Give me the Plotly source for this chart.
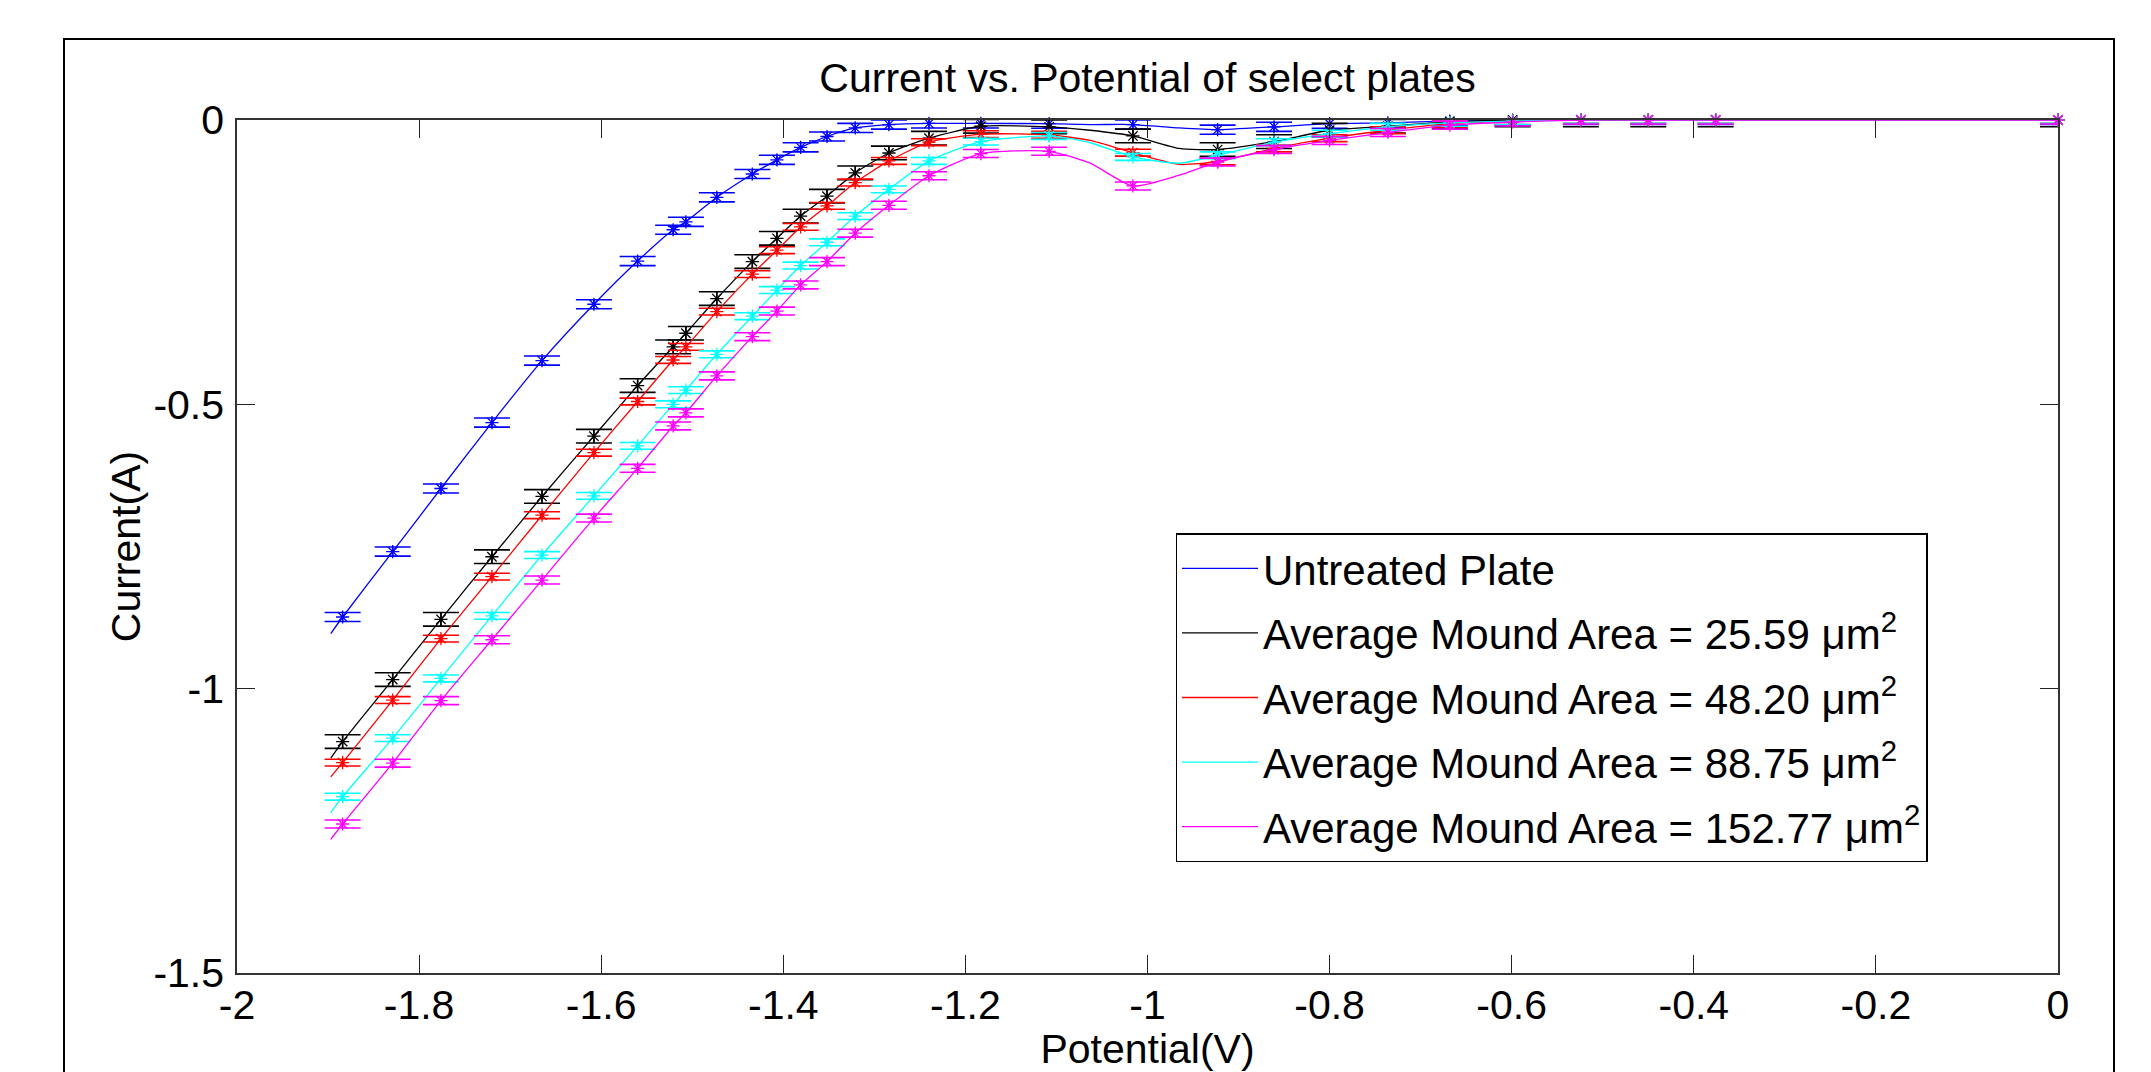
import plotly.graph_objects as go

# ---------------- data ----------------
MARKER_X = [-1.884, -1.829, -1.776, -1.720, -1.665, -1.608, -1.560, -1.521, -1.507, -1.473,
            -1.434, -1.407, -1.381, -1.352, -1.321, -1.284, -1.240, -1.183, -1.108, -1.016,
            -0.923, -0.861, -0.800, -0.736, -0.668, -0.599, -0.524, -0.450, -0.376, 0.0]

untreated = [-0.874, -0.759, -0.648, -0.532, -0.423, -0.324, -0.248, -0.193, -0.179, -0.136,
             -0.095, -0.070, -0.048, -0.029, -0.014, -0.008, -0.006, -0.006, -0.0065, -0.008,
             -0.017, -0.012, -0.0065, -0.005, -0.002, -0.001, 0.0, 0.0, 0.0, 0.0]
area_25 = [-1.093, -0.984, -0.878, -0.768, -0.662, -0.556, -0.467, -0.399, -0.375, -0.314,
           -0.249, -0.208, -0.169, -0.134, -0.093, -0.058, -0.032, -0.011, -0.012, -0.028,
           -0.052, -0.038, -0.018, -0.011, -0.0035, 0.0, 0.0, 0.0, 0.0, 0.0]
area_48 = [-1.130, -1.020, -0.912, -0.803, -0.695, -0.585, -0.495, -0.422, -0.399, -0.337,
           -0.271, -0.229, -0.188, -0.151, -0.110, -0.072, -0.039, -0.025, -0.026, -0.0575,
           -0.073, -0.050, -0.032, -0.018, -0.0065, -0.002, 0.0, 0.0, 0.0, 0.0]
area_88 = [-1.190, -1.087, -0.982, -0.872, -0.765, -0.661, -0.573, -0.500, -0.475, -0.412,
           -0.345, -0.299, -0.256, -0.215, -0.169, -0.122, -0.072, -0.038, -0.028, -0.065,
           -0.062, -0.039, -0.024, -0.012, -0.005, -0.002, 0.0, 0.0, 0.0, 0.0]
area_152 = [-1.238, -1.131, -1.021, -0.914, -0.809, -0.700, -0.6125, -0.538, -0.515, -0.450,
            -0.381, -0.336, -0.290, -0.249, -0.199, -0.150, -0.098, -0.059, -0.055, -0.116,
            -0.074, -0.052, -0.036, -0.022, -0.009, -0.0035, 0.0, 0.0, 0.0, 0.0]

# error bar half-heights per series
err_untreated = [0.008] * 30
err_25 = [0.012] * 30
err_48 = [0.006] * 30
err_88 = [0.006] * 30
err_152 = [0.007] * 30

# continuous curves (start point, marker points and a few extra points in the dip)
LINE_X = [-1.897] + MARKER_X[:19] + [-1.063] + [MARKER_X[19]] + [-0.965] + MARKER_X[20:]
line_untreated = [-0.903] + untreated[:19] + [-0.008] + [untreated[19]] + [-0.014] + untreated[20:]
line_25 = [-1.122] + area_25[:19] + [-0.018] + [area_25[19]] + [-0.050] + area_25[20:]
line_48 = [-1.155] + area_48[:19] + [-0.036] + [area_48[19]] + [-0.078] + area_48[20:]
line_88 = [-1.218] + area_88[:19] + [-0.040] + [area_88[19]] + [-0.076] + area_88[20:]
line_152 = [-1.265] + area_152[:19] + [-0.076] + [area_152[19]] + [-0.097] + area_152[20:]

NAMES = ["Untreated Plate",
         "Average Mound Area = 25.59 μm<sup>2</sup>",
         "Average Mound Area = 48.20 μm<sup>2</sup>",
         "Average Mound Area = 88.75 μm<sup>2</sup>",
         "Average Mound Area = 152.77 μm<sup>2</sup>"]
COLORS = ["#0000ff", "#000000", "#ff0000", "#00ffff", "#ff00ff"]

X_TICKS = [-2, -1.8, -1.6, -1.4, -1.2, -1, -0.8, -0.6, -0.4, -0.2, 0]
X_TICKTEXT = ["-2", "-1.8", "-1.6", "-1.4", "-1.2", "-1", "-0.8", "-0.6", "-0.4", "-0.2", "0"]
Y_TICKS = [-1.5, -1, -0.5, 0]
Y_TICKTEXT = ["-1.5", "-1", "-0.5", "0"]

series = [
    (line_untreated, untreated, err_untreated),
    (line_25, area_25, err_25),
    (line_48, area_48, err_48),
    (line_88, area_88, err_88),
    (line_152, area_152, err_152),
]

FONT = "Liberation Sans, Arial, sans-serif"
FS = 41

fig = go.Figure()
for i, (ly, my, me) in enumerate(series):
    c = COLORS[i]
    fig.add_trace(go.Scatter(
        x=LINE_X, y=ly, mode="lines", name=NAMES[i],
        line=dict(color=c, width=1.3, shape="spline", smoothing=0.6),
        legendgroup=f"g{i}", showlegend=True))
    fig.add_trace(go.Scatter(
        x=MARKER_X, y=my, mode="markers", name=NAMES[i],
        marker=dict(symbol="asterisk-open", size=11, color=c, line=dict(color=c, width=1.3)),
        error_y=dict(type="data", array=me, visible=True, color=c, thickness=1.6, width=18),
        legendgroup=f"g{i}", showlegend=False, cliponaxis=False))

axis_common = dict(
    showline=True, linecolor="#333333", linewidth=1.5, mirror="ticks",
    ticks="inside", ticklen=18, tickwidth=1.3, tickcolor="#222222",
    showgrid=False, zeroline=False,
    tickfont=dict(family=FONT, size=FS, color="black"),
)

fig.update_layout(
    width=2151, height=1072, autosize=False,
    margin=dict(l=237, r=93, t=120, b=99),
    paper_bgcolor="white", plot_bgcolor="white",
    font=dict(family=FONT, size=FS, color="black"),
    title=dict(text="Current vs. Potential of select plates", x=0.5, xref="paper",
               y=1 - 78 / 1072, yref="container", xanchor="center", yanchor="middle",
               font=dict(family=FONT, size=FS, color="black")),
    xaxis=dict(range=[-2, 0], tickvals=X_TICKS, ticktext=X_TICKTEXT, ticklabelstandoff=-5,
               title=dict(text="Potential(V)", standoff=1,
                          font=dict(family=FONT, size=FS, color="black")),
               **axis_common),
    yaxis=dict(range=[-1.5, 0], tickvals=Y_TICKS, ticktext=Y_TICKTEXT, ticklabelstandoff=3,
               title=dict(text="Current(A)", standoff=0,
                          font=dict(family=FONT, size=FS, color="black")),
               **axis_common),
    legend=dict(x=(1175.5 - 237) / 1821, y=1 - (533 - 120) / 853, xanchor="left", yanchor="top",
                bordercolor="black", borderwidth=1.5, bgcolor="white",
                font=dict(family=FONT, size=42, color="black"),
                traceorder="grouped", tracegroupgap=7, itemwidth=76),
    shapes=[dict(type="rect", xref="paper", yref="paper",
                 x0=(64 - 237) / 1821, x1=(2114 - 237) / 1821,
                 y0=-(1100 - 973) / 853, y1=1 + (120 - 39) / 853,
                 line=dict(color="black", width=2), fillcolor="rgba(0,0,0,0)", layer="below")],
)

fig.write_html("out.html", config={"displayModeBar": False},
               post_script="document.body.style.margin='0';document.body.style.overflow='hidden';")
